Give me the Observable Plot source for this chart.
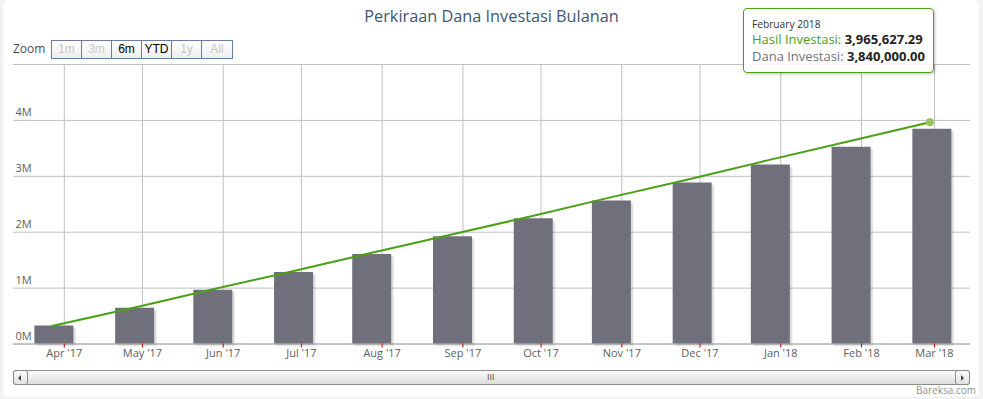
<!DOCTYPE html>
<html>
<head>
<meta charset="utf-8">
<script src="https://cdn.jsdelivr.net/npm/d3@7"></script>
<script src="https://cdn.jsdelivr.net/npm/@observablehq/plot@0.6"></script>
<style>
  html, body { margin: 0; padding: 0; background: #f2f2f2; }
  #wrap { position: relative; width: 983px; height: 399px; overflow: hidden; font-family: "Open Sans", sans-serif; }
  #panel { position: absolute; left: 3px; top: 0px; width: 976px; height: 397px; background: #fff; border-radius: 5px; }
  #chart { position: absolute; left: 0; top: 0; }
  #title { position: absolute; left: 0; width: 983px; top: 5px; text-align: center; font-size: 16.3px; color: #3e576f; white-space: nowrap; }
  #zoomlbl { position: absolute; left: 13px; top: 40px; font-size: 12px; color: #4d4d4d; }
  #btns { position: absolute; left: 51px; top: 40px; height: 17px; display: flex; border: 1px solid #68809c; }
  .btn { width: 29px; height: 17px; line-height: 17px; text-align: center; font-size: 12px; font-family: "Liberation Sans", Arial, sans-serif;
         background: linear-gradient(#ffffff, #eeeeee); border-right: 1px solid #68809c; color: #000; }
  .btn:last-child { border-right: none; width: 30px; }
  .btn.off { color: #c8c8c8; }
  #tip { position: absolute; left: 743px; top: 8px; width: 189px; height: 63px; border: 1.5px solid #4ba016; border-radius: 4px;
         background: rgba(255,255,255,0.88); box-shadow: 1px 1px 3px rgba(0,0,0,0.25); }
  #tip .hd { position: absolute; left: 8px; top: 8px; font-size: 10.2px; color: #333; white-space: nowrap; }
  #tip .r { position: absolute; left: 8px; font-size: 13px; white-space: nowrap; }
  #tip .r b { color: #222; }
  #sb { position: absolute; left: 13px; top: 370px; width: 955px; height: 13px; border: 1px solid #8c8c8c; border-radius: 3px;
        background: linear-gradient(#fbfbfb, #dcdcdc); }
  .sbb { position: absolute; top: -1px; width: 13px; height: 13px; border: 1px solid #8c8c8c; border-radius: 3px; background: linear-gradient(#fbfbfb, #e2e2e2); }
  .sbb span { position: absolute; top: 4px; width: 0; height: 0; border-top: 3px solid transparent; border-bottom: 3px solid transparent; }
  #grip { position: absolute; left: 473px; top: 2px; font-size: 9px; line-height: 9px; color: #555; font-family: "Liberation Sans", sans-serif; letter-spacing: 0px; }
  #credit { position: absolute; left: 916px; top: 383px; font-size: 10px; color: #909090; white-space: nowrap; }
</style>
</head>
<body>
<div id="wrap">
  <div id="panel"></div>
  <div id="chart"></div>
  <div id="title">Perkiraan Dana Investasi Bulanan</div>
  <div id="zoomlbl">Zoom</div>
  <div id="btns"></div>
  <div id="sb">
    <div class="sbb" style="left:-1px"><span style="left:4px;border-right:3px solid #444"></span></div>
    <div id="grip">III</div>
    <div class="sbb" style="right:-1px"><span style="left:5px;border-left:3px solid #444"></span></div>
  </div>
  <div id="credit">Bareksa.com</div>
  <div id="tip"></div>
</div>
<script>
// ---- data ----
const pointDates = ["2017-03-28","2017-04-28","2017-05-28","2017-06-28","2017-07-28","2017-08-28",
                    "2017-09-28","2017-10-28","2017-11-28","2017-12-28","2018-01-28","2018-02-28"];
const danaInvestasi = [320000, 640000, 960000, 1280000, 1600000, 1920000,
                       2240000, 2560000, 2880000, 3200000, 3520000, 3840000];
const hasilInvestasi = [321600, 644800, 969600, 1296100, 1624200, 1953900,
                        2285300, 2618300, 2953000, 3289300, 3627400, 3965627.29];
const tickDates = ["2017-04-01","2017-05-01","2017-06-01","2017-07-01","2017-08-01","2017-09-01",
                   "2017-10-01","2017-11-01","2017-12-01","2018-01-01","2018-02-01","2018-03-01"];
const tickLabels = ["Apr '17","May '17","Jun '17","Jul '17","Aug '17","Sep '17",
                    "Oct '17","Nov '17","Dec '17","Jan '18","Feb '18","Mar '18"];
const yTicks = [0, 1000000, 2000000, 3000000, 4000000];
const yTickLabels = ["0M", "1M", "2M", "3M", "4M"];
const yGrid = [1000000, 2000000, 3000000, 4000000, 5000000];
const zoomButtons = ["1m", "3m", "6m", "YTD", "1y", "All"];
const zoomEnabled = [false, false, true, true, false, false];
const tipTitle = "February 2018";
const seriesNames = ["Hasil Investasi", "Dana Investasi"];

// ---- build ----
const data = pointDates.map((d, i) => ({date: new Date(d + "T00:00Z"), dana: danaInvestasi[i], hasil: hasilInvestasi[i]}));
const ticks = tickDates.map(d => new Date(d + "T00:00Z"));
const tickMap = new Map(ticks.map((t, i) => [+t, tickLabels[i]]));
const yMap = new Map(yTicks.map((v, i) => [v, yTickLabels[i]]));
const barColor = "#70707c", lineColor = "#4ba016";

const chart = Plot.plot({
  width: 983, height: 399,
  marginLeft: 13, marginRight: 13, marginTop: 64, marginBottom: 55.5,
  style: {background: "transparent", fontFamily: "Open Sans", fontSize: "11px", overflow: "visible"},
  x: {type: "utc", domain: [new Date("2017-03-12T12:00Z"), new Date("2018-03-14T20:00Z")]},
  y: {domain: [0, 5000000]},
  marks: [
    Plot.gridY(yGrid, {stroke: "#c0c0c0", strokeOpacity: 1}),
    Plot.gridX(ticks, {stroke: "#c0c0c0", strokeOpacity: 1}),
    Plot.ruleX(data, {x: "date", y1: 0, y2: "dana", stroke: "#000", strokeOpacity: 0.05, strokeWidth: 39, dx: 3, dy: 3}),
    Plot.ruleX(data, {x: "date", y1: 0, y2: "dana", stroke: "#000", strokeOpacity: 0.09, strokeWidth: 39, dx: 2, dy: 2}),
    Plot.ruleX(data, {x: "date", y1: 0, y2: "dana", stroke: barColor, strokeWidth: 39}),
    Plot.ruleY([0], {stroke: "#8a8a8a"}),
    Plot.axisX(ticks, {tickSize: 4, stroke: "#c00000", tickFormat: () => ""}),
    Plot.axisX(ticks, {tickSize: 0, tickPadding: 5, fill: "#606060", tickFormat: d => tickMap.get(+d)}),
    Plot.axisY(yTicks, {tickSize: 0, tickPadding: 0, textAnchor: "start", dx: 2, dy: -8, fill: "#606060", tickFormat: d => yMap.get(d)}),
    Plot.line(data, {x: "date", y: "hasil", stroke: lineColor, strokeWidth: 2, dx: -2}),
    Plot.dot(data.slice(-1), {x: "date", y: "hasil", r: 4, fill: "#98c25a", stroke: "none", dx: -2})
  ]
});
document.getElementById("chart").appendChild(chart);

const btns = document.getElementById("btns");
zoomButtons.forEach((b, i) => {
  const el = document.createElement("div");
  el.className = "btn" + (zoomEnabled[i] ? "" : " off");
  el.textContent = b;
  btns.appendChild(el);
});

const fmt = d3.format(",.2f");
const last = data[data.length - 1];
document.getElementById("tip").innerHTML =
  `<div class="hd">${tipTitle}</div>` +
  `<div class="r" style="top:21px"><span style="color:${lineColor}">${seriesNames[0]}:</span> <b>${fmt(last.hasil)}</b></div>` +
  `<div class="r" style="top:38px"><span style="color:${barColor}">${seriesNames[1]}:</span> <b>${fmt(last.dana)}</b></div>`;
</script>
</body>
</html>
